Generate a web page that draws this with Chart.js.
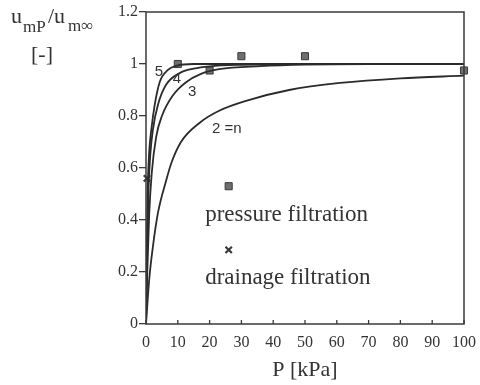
<!DOCTYPE html>
<html>
<head>
<meta charset="utf-8">
<script src="https://cdn.jsdelivr.net/npm/chart.js@4"></script>
<style>
  body { margin: 0; background: #fff; }
  #wrap { width: 480px; height: 385px; }
</style>
</head>
<body>
<div id="wrap"><canvas id="filtrationChart" width="480" height="385"></canvas></div>
<script>
// measured points
const pressureP = [10, 20, 30, 50, 100];
const pressureU = [1.0, 0.975, 1.03, 1.03, 0.975];
const drainageP = [0.3];
const drainageU = [0.56];

// model curves for n = 2..5
const curveN2P = [0, 1, 2.2, 3.8, 6.3, 8, 11, 17, 23, 32, 45, 61, 80, 100];
const curveN2U = [0, 0.17, 0.3, 0.43, 0.55, 0.62, 0.7, 0.775, 0.82, 0.86, 0.9, 0.927, 0.945, 0.955];
const curveN3P = [0, 0.4, 1, 1.8, 3.2, 5, 8.5, 12.6, 17.3, 23, 36, 50, 70, 100];
const curveN3U = [0, 0.2, 0.42, 0.58, 0.72, 0.8, 0.88, 0.93, 0.962, 0.98, 0.992, 0.998, 1, 1];
const curveN4P = [0, 0.3, 0.8, 1.4, 2.2, 3.8, 6.3, 10.6, 15, 20, 30, 50, 100];
const curveN4U = [0, 0.25, 0.52, 0.66, 0.75, 0.845, 0.92, 0.965, 0.982, 0.991, 0.997, 1, 1];
const curveN5P = [0, 0.2, 0.5, 1, 1.7, 2.7, 4.3, 6.9, 9.5, 15, 100];
const curveN5U = [0, 0.25, 0.5, 0.66, 0.75, 0.84, 0.93, 0.977, 0.993, 1, 1];

// key symbols inside the plot
const keySquareP = [26];
const keySquareU = [0.53];
const keyCrossP = [26];
const keyCrossU = [0.285];

const xTicks = [0, 10, 20, 30, 40, 50, 60, 70, 80, 90, 100];

const SERIF = '"Liberation Serif", "Times New Roman", serif';
const SANS = '"Liberation Sans", Arial, sans-serif';
const INK = '#333';

function toXY(xs, ys) {
    return xs.map((x, i) => ({ x: x, y: ys[i] }));
}

function curve(xs, ys) {
    return {
        data: toXY(xs, ys),
        borderColor: '#2b2b2b',
        borderWidth: 1.8,
        pointRadius: 0,
        fill: false,
        showLine: true,
        cubicInterpolationMode: 'monotone'
    };
}

function markers(xs, ys, style, radius) {
    return {
        data: toXY(xs, ys),
        showLine: false,
        pointStyle: style,
        pointRadius: radius,
        pointBackgroundColor: '#6e6e6e',
        pointBorderColor: '#3a3a3a',
        pointBorderWidth: style === 'crossRot' ? 2.2 : 1,
        clip: false
    };
}

// frame, inner x ticks and all the texts written on the plot
const paperPlugin = {
    id: 'paper',
    afterDatasetsDraw(chart) {
        const ctx = chart.ctx;
        const area = chart.chartArea;
        const xs = chart.scales.x;
        const ys = chart.scales.y;
        ctx.save();

        ctx.strokeStyle = '#3a3a3a';
        ctx.lineWidth = 1.5;
        ctx.strokeRect(area.left, area.top, area.right - area.left, area.bottom - area.top);

        ctx.lineWidth = 1.3;
        ctx.beginPath();
        xTicks.forEach(v => {
            const px = xs.getPixelForValue(v);
            ctx.moveTo(px, area.bottom);
            ctx.lineTo(px, area.bottom - 4);
        });
        ctx.stroke();

        ctx.fillStyle = INK;
        ctx.textBaseline = 'middle';
        ctx.textAlign = 'center';
        ctx.font = '15px ' + SANS;
        const labels = [['5', 4.1, 0.969], ['4', 9.7, 0.942], ['3', 14.5, 0.892], ['2 =n', 25.4, 0.75]];
        labels.forEach(l => ctx.fillText(l[0], xs.getPixelForValue(l[1]), ys.getPixelForValue(l[2])));

        ctx.textAlign = 'left';
        ctx.font = '23px ' + SERIF;
        ctx.fillText('pressure filtration', xs.getPixelForValue(18.6), ys.getPixelForValue(0.42));
        ctx.fillText('drainage filtration', xs.getPixelForValue(18.6), ys.getPixelForValue(0.177));

        // y axis title u_mP/u_m∞ and unit
        ctx.textBaseline = 'alphabetic';
        ctx.font = '22px ' + SERIF;
        ctx.fillText('u', 11, 23);
        ctx.fillText('/u', 48, 23);
        ctx.font = '17px ' + SERIF;
        ctx.fillText('mP', 23, 32);
        ctx.fillText('m\u221e', 68, 31);
        ctx.font = '22px ' + SERIF;
        ctx.textAlign = 'center';
        ctx.fillText('[-]', 42, 61);

        ctx.restore();
    }
};

const chart = new Chart(document.getElementById('filtrationChart'), {
    type: 'line',
    data: {
        datasets: [
            curve(curveN2P, curveN2U),
            curve(curveN3P, curveN3U),
            curve(curveN4P, curveN4U),
            curve(curveN5P, curveN5U),
            markers(pressureP, pressureU, 'rect', 5),
            markers(drainageP, drainageU, 'crossRot', 4.5),
            markers(keySquareP, keySquareU, 'rect', 5),
            markers(keyCrossP, keyCrossU, 'crossRot', 4.5)
        ]
    },
    options: {
        responsive: false,
        animation: false,
        layout: { padding: { top: 12, right: 16, left: 0, bottom: 0 } },
        plugins: {
            legend: { display: false },
            tooltip: { enabled: false }
        },
        scales: {
            x: {
                type: 'linear',
                min: 0,
                max: 100,
                afterBuildTicks: s => { s.ticks = xTicks.map(v => ({ value: v })); },
                ticks: { color: INK, font: { family: SERIF, size: 16 }, padding: 1, maxRotation: 0 },
                grid: { display: false },
                border: { display: false },
                title: {
                    display: true,
                    text: 'P [kPa]',
                    color: INK,
                    font: { family: SERIF, size: 22 },
                    padding: { top: 0, bottom: 2 }
                },
                afterFit: s => { s.height = 61; }
            },
            y: {
                min: 0,
                max: 1.2,
                ticks: {
                    stepSize: 0.2,
                    color: INK,
                    font: { family: SERIF, size: 16 },
                    padding: 1,
                    callback: v => String(Math.round(v * 10) / 10)
                },
                grid: { drawOnChartArea: false, tickLength: 7, color: '#3a3a3a', lineWidth: 1.3 },
                border: { display: false },
                afterFit: s => { s.width = 146; }
            }
        }
    },
    plugins: [paperPlugin]
});
</script>
</body>
</html>
